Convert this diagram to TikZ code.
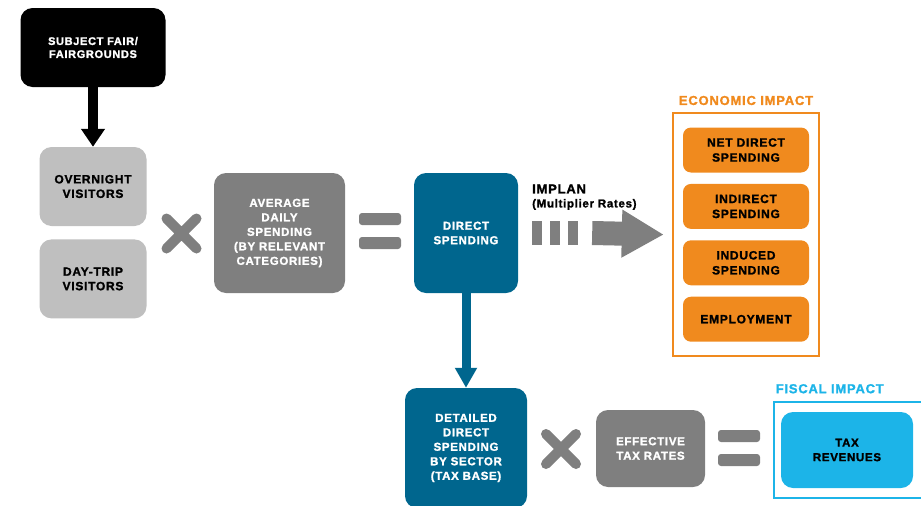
\documentclass[tikz,border=0pt]{standalone}
\usepackage{fontspec}
\setmainfont{Liberation Sans}[LetterSpace=6,BoldFeatures={FakeBold=1.5}]
\usepackage{tikz}
\usetikzlibrary{arrows.meta,fit,positioning}
\definecolor{fairblack}{RGB}{0,0,0}
\definecolor{lightgrey}{RGB}{191,191,191}
\definecolor{midgrey}{RGB}{127,127,127}
\definecolor{deepblue}{RGB}{0,102,142}
\definecolor{econorange}{RGB}{240,138,30}
\definecolor{fiscalblue}{RGB}{28,180,232}

\begin{document}
\begin{tikzpicture}[x=1pt,y=-1pt]
 	\tikzstyle{box}=[rectangle, rounded corners=12pt, align=center, inner sep=0pt, font=\bfseries\fontsize{11.5}{14.5}\selectfont]
 	\tikzstyle{fairbox}=[box, fill=fairblack, text=white, minimum width=145pt, minimum height=79pt, font=\bfseries\fontsize{11}{13}\selectfont]
 	\tikzstyle{visitbox}=[box, fill=lightgrey, text=black, minimum width=107pt, minimum height=79pt, font=\bfseries\fontsize{12}{14.5}\selectfont]
 	\tikzstyle{greybox}=[box, fill=midgrey, text=white]
 	\tikzstyle{bluebox}=[box, fill=deepblue, text=white]
 	\tikzstyle{orangebox}=[box, rounded corners=8pt, fill=econorange, text=black, minimum width=126pt, minimum height=45pt, font=\bfseries\fontsize{12}{15}\selectfont]
 	\tikzstyle{taxbox}=[box, fill=fiscalblue, text=black, minimum width=132pt, minimum height=76pt]
 	\tikzstyle{headline}=[font=\bfseries\fontsize{13}{15}\selectfont, inner sep=3pt]
 	\tikzstyle{signs}=[midgrey, line width=10pt, line cap=round]
 	\tikzstyle{blackarrow}=[-{Triangle[width=23pt,length=18pt]}, line width=10pt, fairblack]
 	\tikzstyle{bluearrow}=[-{Triangle[width=21pt,length=20pt]}, line width=9pt, deepblue]
 	\clip (0,0) rectangle (921,506);
 	\node[fairbox] (fair) at (93,47.5) {SUBJECT FAIR/\\FAIRGROUNDS};
 	\node[visitbox] (overnight) at (93,186.5) {OVERNIGHT\\VISITORS};
 	\node[visitbox] (daytrip) [below=13pt of overnight] {DAY-TRIP\\VISITORS};
 	\node[greybox, minimum width=131pt, minimum height=120pt] (avg) at (279.5,233) {AVERAGE\\DAILY\\SPENDING\\(BY RELEVANT\\CATEGORIES)};
 	\node[bluebox, minimum width=104pt, minimum height=120pt] (direct) at (466,233) {DIRECT\\SPENDING};
 	\node[anchor=south west, align=left, inner sep=0pt, font=\bfseries\fontsize{13}{14}\selectfont] (implan) at (532,210) {IMPLAN\\{\fontsize{11.5}{12}\selectfont (Multiplier Rates)}};
 	\node[orangebox] (net) at (746,150) {NET DIRECT\\SPENDING};
 	\node[orangebox] (indirect) [below=11pt of net] {INDIRECT\\SPENDING};
 	\node[orangebox] (induced) [below=11pt of indirect] {INDUCED\\SPENDING};
 	\node[orangebox] (employ) [below=11pt of induced] {EMPLOYMENT};
 	\node[rectangle, draw=econorange, line width=2pt, inner xsep=10pt, inner ysep=14pt, fit=(net)(employ), label={[headline, text=econorange, label distance=4pt]above:ECONOMIC IMPACT}] (econ) {};
 	\node[bluebox, minimum width=122pt, minimum height=120pt] (detail) at (466,448) {DETAILED\\DIRECT\\SPENDING\\BY SECTOR\\(TAX BASE)};
 	\node[greybox, minimum width=109pt, minimum height=77pt] (eff) at (650.5,448.5) {EFFECTIVE\\TAX RATES};
 	\node[taxbox] (tax) at (847,450) {TAX\\REVENUES};
 	\coordinate (fisedge) at (945,450);
 	\node[rectangle, draw=fiscalblue, line width=2.5pt, inner xsep=7pt, inner ysep=10pt, fit=(tax)(fisedge), label={[headline, text=fiscalblue, anchor=south west, yshift=4pt]north west:FISCAL IMPACT}] (fiscal) {};
 	\path (fair) edge [blackarrow] (overnight)
 	(direct) edge [bluearrow] (detail);
 	\draw[midgrey, line width=24pt, dash pattern=on 10pt off 8pt] ([xshift=14pt]direct.east) -- ++(46,0);
 	\draw[midgrey, line width=24pt, -{Triangle[width=45pt,length=42pt]}] ([xshift=74pt]direct.east) -- ([xshift=-8pt]econ.west);
 	\draw[signs] (166.5,218.5) -- (196.5,248.5) (166.5,248.5) -- (196.5,218.5);
 	\draw[signs] (546,434) -- (576,464) (546,464) -- (576,434);
 	\fill[midgrey, rounded corners=3pt] (359,213) rectangle (401,225) (359,237) rectangle (401,249);
 	\fill[midgrey, rounded corners=3pt] (718,430) rectangle (760,442) (718,454) rectangle (760,466);
 	\end{tikzpicture}
\end{document}
